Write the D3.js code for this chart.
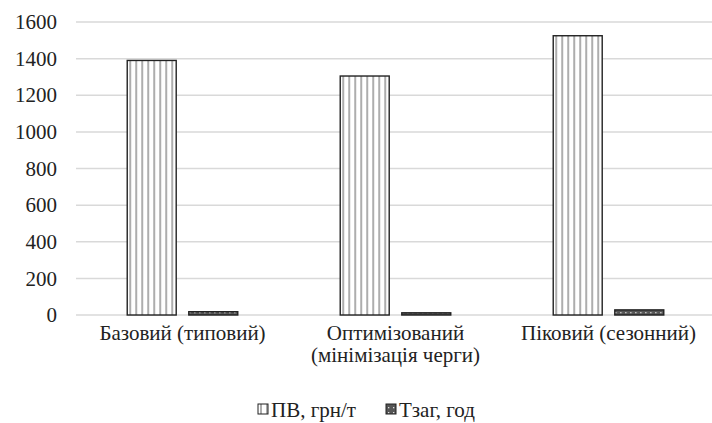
<!DOCTYPE html>
<html><head><meta charset="utf-8"><script src="https://cdn.jsdelivr.net/npm/d3@7"></script></head>
<body><script>
const categories = ["Базовий (типовий)", "Оптимізований (мінімізація черги)", "Піковий (сезонний)"];
const seriesNames = ["ПВ, грн/т", "Тзаг, год"];
const pvValues = [1390, 1305, 1525];
const tzagValues = [18, 12, 28];
const yTicks = [0, 200, 400, 600, 800, 1000, 1200, 1400, 1600];

const f = "Liberation Serif";
function setFont(sel){
  sel.style("font-family", `'${f}'`).style("font-size", "21px").attr("fill","#222");
}
const svg = d3.select("body").append("svg").attr("width",712).attr("height",423)
  .style("position","absolute").style("left","0px").style("top","0px");
const defs = svg.append("defs");

const p1 = defs.append("pattern").attr("id","pv").attr("patternUnits","userSpaceOnUse")
  .attr("width",6).attr("height",6);
p1.append("rect").attr("width",6).attr("height",6).attr("fill","#fff");
p1.append("line").attr("x1",3).attr("x2",3).attr("y1",0).attr("y2",6)
  .attr("stroke","#8a8a8a").attr("stroke-width",1.4);

const p2 = defs.append("pattern").attr("id","tz").attr("patternUnits","userSpaceOnUse")
  .attr("width",5).attr("height",5);
p2.append("rect").attr("width",5).attr("height",5).attr("fill","#555");
p2.append("rect").attr("x",2).attr("y",2).attr("width",1.3).attr("height",1.3).attr("fill","#ddd");

const fills = ["url(#pv)","url(#tz)"];

const y = d3.scaleLinear().domain([0,1600]).range([315,22]);
const x0 = d3.scaleBand().domain(categories).range([76,715]).paddingInner(0.481).paddingOuter(0.2405);
const x1 = d3.scaleBand().domain(seriesNames).range([0,x0.bandwidth()]).paddingInner(0.2045).paddingOuter(0);

svg.append("g").selectAll("line").data(yTicks).join("line")
  .attr("x1",76).attr("x2",712)
  .attr("y1",d=>y(d)).attr("y2",d=>y(d))
  .attr("stroke","#d9d9d9").attr("stroke-width",1.5);

const ga = svg.append("g").attr("transform","translate(57,0)")
  .call(d3.axisLeft(y).tickValues(yTicks).tickSize(0).tickPadding(0).tickFormat(d3.format("d")));
ga.select(".domain").remove();
setFont(ga.selectAll("text"));

const data = categories.map((c,i)=>({cat:c, vals:[pvValues[i], tzagValues[i]]}));
svg.append("g").selectAll("g").data(data).join("g")
  .attr("transform",d=>`translate(${x0(d.cat)},0)`)
  .selectAll("rect").data(d=>d.vals.map((v,j)=>({v, s:seriesNames[j], j}))).join("rect")
  .attr("x",d=>x1(d.s)).attr("width",x1.bandwidth())
  .attr("y",d=>y(d.v)).attr("height",d=>y(0)-y(d.v))
  .attr("fill",d=>fills[d.j]).attr("stroke","#222").attr("stroke-width",1.4);

const gx = svg.append("g").attr("transform","translate(0,325)")
  .call(d3.axisBottom(x0).tickSize(0).tickPadding(0));
gx.select(".domain").remove();
const catText = gx.selectAll("text");
setFont(catText);
catText.attr("dy","0.71em").each(function(){
  const t = d3.select(this);
  const words = t.text().split(" ");
  t.text(null);
  let line = [];
  let tspan = t.append("tspan").attr("x",0).attr("dy","0.71em");
  words.forEach(w=>{
    line.push(w);
    tspan.text(line.join(" "));
    if (tspan.node().getComputedTextLength() > 195 && line.length>1){
      line.pop(); tspan.text(line.join(" "));
      line=[w];
      tspan = t.append("tspan").attr("x",0).attr("dy","1.05em").text(w);
    }
  });
});

const legend = svg.append("g").attr("transform","translate(0,410)");
const legX = [258, 386];
seriesNames.forEach((s,i)=>{
  const g = legend.append("g").attr("transform",`translate(${legX[i]},0)`);
  g.append("rect").attr("x",0).attr("y",-6).attr("width",10).attr("height",10)
    .attr("fill",fills[i]).attr("stroke","#222").attr("stroke-width",1);
  setFont(g.append("text").attr("x",13).attr("y",0).attr("dy","0.35em").text(s));
});
</script></body></html>
